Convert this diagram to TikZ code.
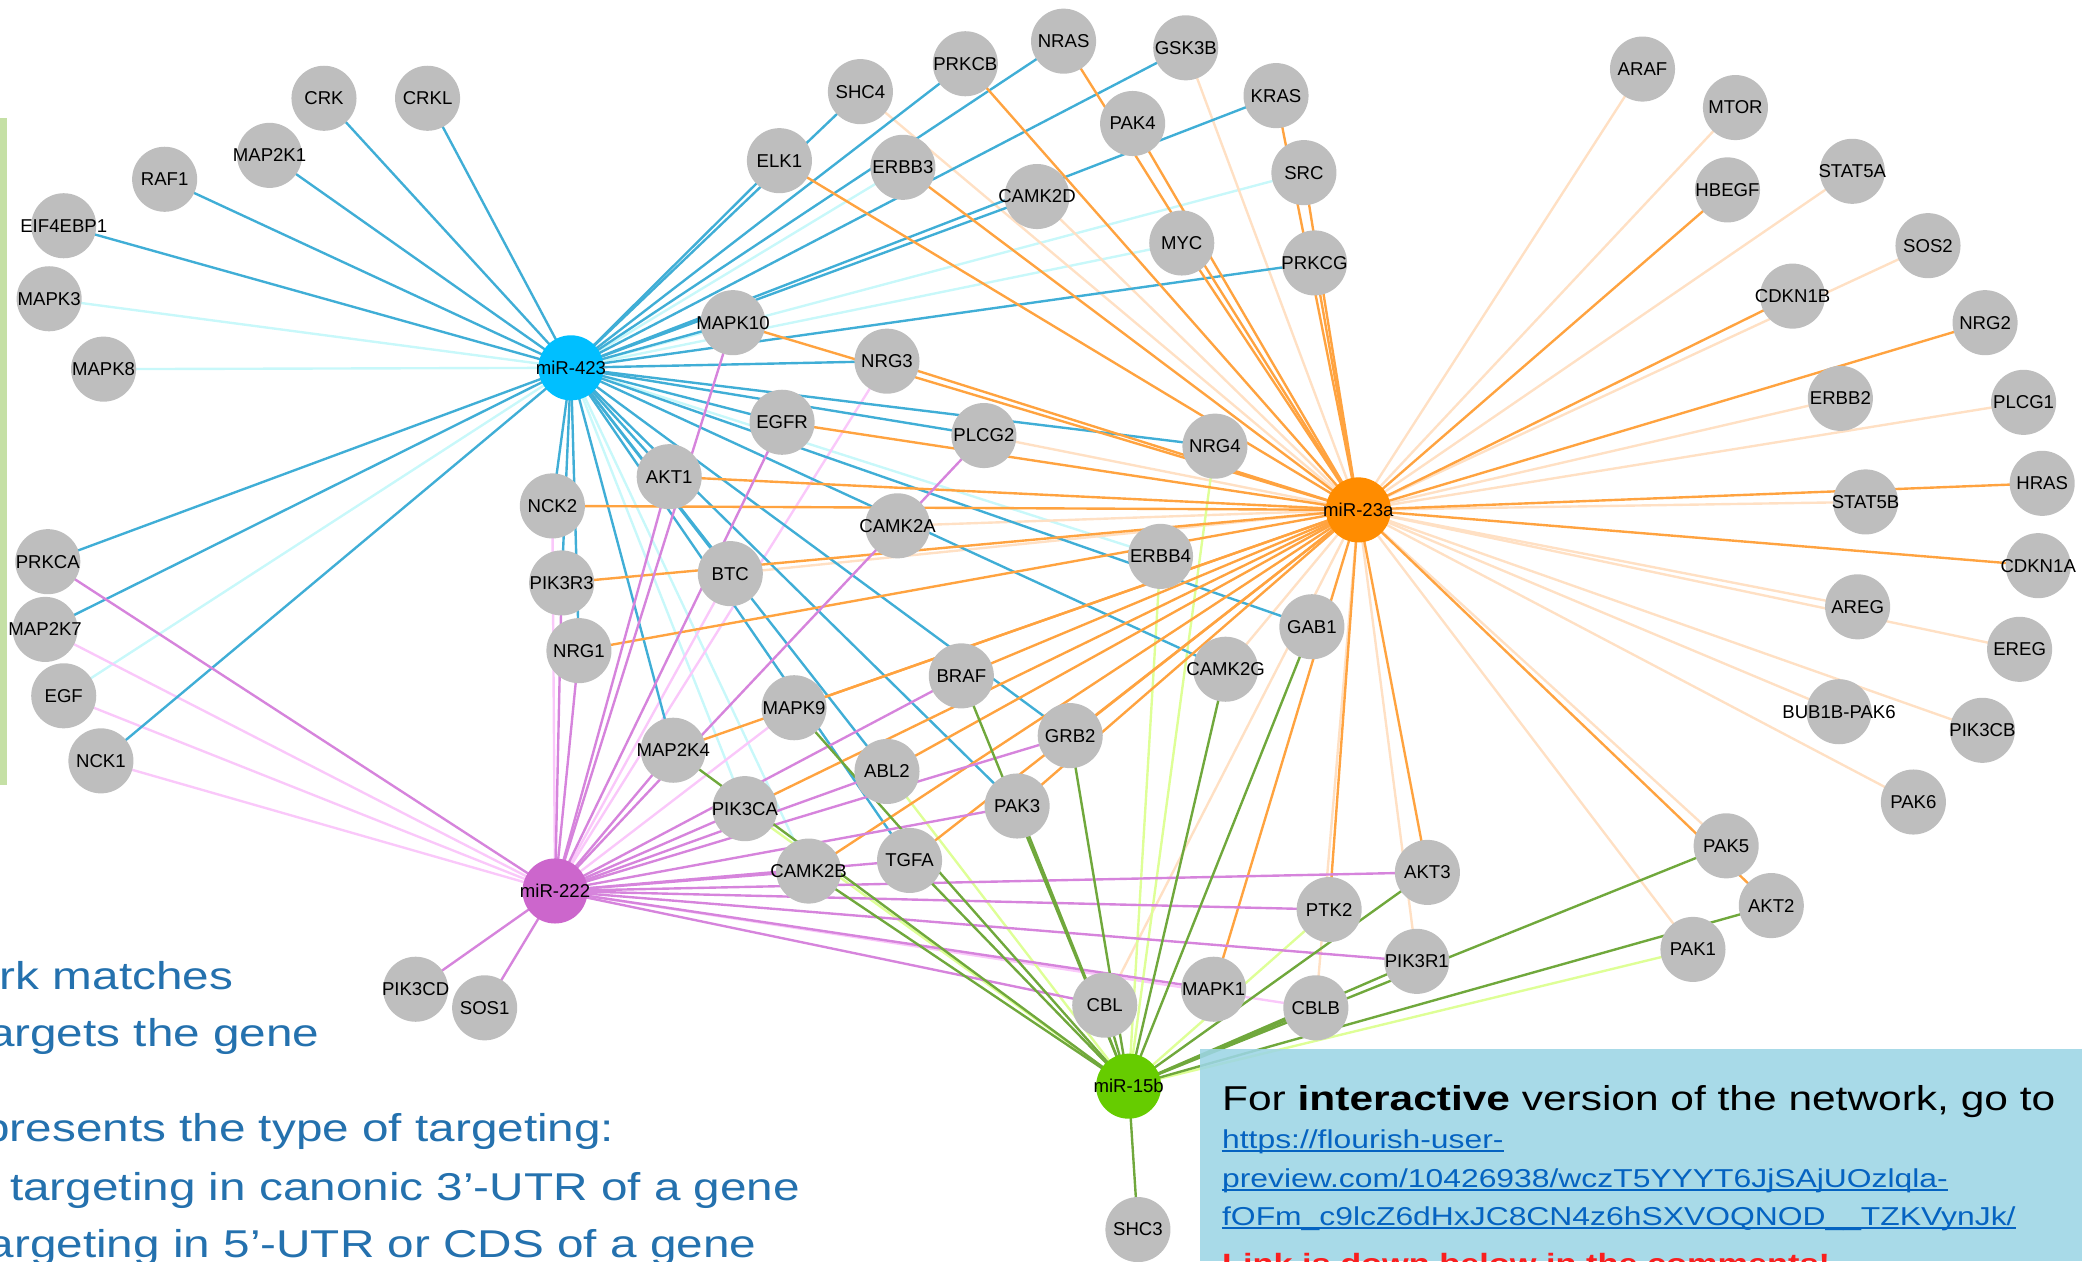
\documentclass[tikz,border=0pt]{standalone}
\usepackage{fontspec}
\setmainfont{Liberation Sans}
\newfontfamily\slidefont[FakeStretch=1.23]{Liberation Sans}
\usetikzlibrary{backgrounds}
\definecolor{nodegray}{RGB}{190,190,190}
\definecolor{c423}{RGB}{0,191,255}
\definecolor{c23}{RGB}{255,140,0}
\definecolor{c222}{RGB}{204,102,204}
\definecolor{c15}{RGB}{102,204,0}
\definecolor{db}{RGB}{64,174,214}
\definecolor{lbc}{RGB}{200,248,250}
\definecolor{do}{RGB}{255,163,64}
\definecolor{loc}{RGB}{255,224,196}
\definecolor{dm}{RGB}{214,132,220}
\definecolor{lmc}{RGB}{250,200,250}
\definecolor{dg}{RGB}{112,168,60}
\definecolor{lgc}{RGB}{222,255,150}
\definecolor{slideblue}{RGB}{36,113,174}
\definecolor{boxblue}{RGB}{156,213,229}
\definecolor{linkblue}{RGB}{5,99,193}
\definecolor{bargreen}{RGB}{197,224,165}
\definecolor{alertred}{RGB}{250,30,30}
\begin{document}
\begin{tikzpicture}[x=0.5pt,y=-0.5pt,
  gene/.style={circle,fill=nodegray,minimum size=24.5pt,inner sep=0pt,font=\fontsize{7}{8}\selectfont},
  hub/.style={gene},
  edge/.style={line width=0.9pt},
  db423/.style={edge,draw=db}, lb423/.style={edge,draw=lbc},
  do23/.style={edge,draw=do}, lo23/.style={edge,draw=loc},
  dm222/.style={edge,draw=dm}, lm222/.style={edge,draw=lmc},
  dg15/.style={edge,draw=dg}, lg15/.style={edge,draw=lgc},
  sidetext/.style={anchor=base east,inner sep=0pt,text=slideblue,font=\slidefont\fontsize{14.6}{16}\selectfont},
  linktext/.style={anchor=base west,inner sep=0pt,text=linkblue,font=\slidefont\fontsize{9.75}{11}\selectfont},
  underl/.style={draw=linkblue,line width=0.6pt}]
\useasboundingbox (0,0) rectangle (1568,950);

% green bar
\fill[bargreen] (0,89) rectangle (5,591);

% gene nodes
\foreach \n/\x/\y in {CRK/244/74,CRKL/322/74,MAP2K1/203/117,RAF1/124/135,EIF4EBP1/48/170,MAPK3/37/225,MAPK8/78/278,
  PRKCA/36/423,MAP2K7/34/474,EGF/48/524,NCK1/76/573,SHC4/648/69,PRKCB/727/48,NRAS/801/31,GSK3B/893/36,KRAS/961/72,
  PAK4/853/93,ELK1/587/121,ERBB3/680/126,CAMK2D/781/148,SRC/982/130,MYC/890/183,PRKCG/990/198,MAPK10/552/243,
  NRG3/668/272,EGFR/589/318,PLCG2/741/328,NRG4/915/336,AKT1/504/359,NCK2/416/381,CAMK2A/676/396,PIK3R3/423/439,
  BTC/550/432,ERBB4/874/419,NRG1/436/490,GAB1/988/472,BRAF/724/509,CAMK2G/923/504,MAPK9/598/533,GRB2/806/554,
  MAP2K4/507/565,ABL2/668/581,PIK3CA/561/609,PAK3/766/607,CAMK2B/609/656,TGFA/685/648,AKT3/1075/657,PTK2/1001/685,
  PIK3R1/1067/724,MAPK1/914/745,CBL/832/757,CBLB/991/759,SHC3/857/926,PIK3CD/313/745,SOS1/365/759,
  ARAF/1237/52,MTOR/1307/81,HBEGF/1301/143,STAT5A/1395/129,SOS2/1452/185,CDKN1B/1350/223,NRG2/1495/243,
  ERBB2/1386/300,PLCG1/1524/303,HRAS/1538/364,STAT5B/1405/378,CDKN1A/1535/426,AREG/1399/457,EREG/1521/489,
  PIK3CB/1493/550,PAK6/1441/604,PAK5/1300/637,AKT2/1334/682,PAK1/1275/715}
  \node[gene] (\n) at (\x,\y) {\makebox[0pt]{\n}};
\node[gene] (BUBPAK) at (1385,536) {\makebox[0pt]{BUB1B-PAK6}};

% hubs
\node[hub,fill=c423] (h423) at (430,277) {\makebox[0pt]{miR-423}};
\node[hub,fill=c23] (h23) at (1023,384) {\makebox[0pt]{miR-23a}};
\node[hub,fill=c222] (h222) at (418,671) {\makebox[0pt]{miR-222}};
\node[hub,fill=c15] (h15) at (850,818) {\makebox[0pt]{miR-15b}};

\begin{scope}[on background layer]
% light edges
\foreach \g in {MAPK3,MAPK8,EGF,ERBB3,SRC,MYC,ERBB4,CAMK2B,PIK3CA}
  \draw[lb423] (h423.center) -- (\g.center);
\foreach \g in {SHC4,GSK3B,CAMK2D,ARAF,MTOR,STAT5A,SOS2,ERBB2,PLCG1,STAT5B,AREG,EREG,BUBPAK,PIK3CB,PAK6,PAK5,PAK1,PIK3R1,CBLB,CBL,CAMK2G,BTC,PLCG2,CAMK2A}
  \draw[lo23] (h23.center) -- (\g.center);
\foreach \g in {MAP2K7,EGF,NCK1,NCK2,NRG3,BTC,MAPK9,CBLB}
  \draw[lm222] (h222.center) -- (\g.center);
\foreach \g in {PIK3CA,ABL2,NRG4,ERBB4,PTK2,PAK1}
  \draw[lg15] (h15.center) -- (\g.center);
% dark edges
\foreach \g in {CRK,CRKL,MAP2K1,RAF1,EIF4EBP1,PRKCA,MAP2K7,NCK1,ELK1,SHC4,PRKCB,NRAS,GSK3B,KRAS,CAMK2D,PRKCG,MAPK10,
  NRG3,EGFR,PLCG2,NRG4,CAMK2G,GAB1,AKT1,BTC,ABL2,TGFA,PAK3,GRB2,MAP2K4,NRG1,PIK3R3,NCK2}
  \draw[db423] (h423.center) -- (\g.center);
\foreach \g in {ELK1,PRKCB,NRAS,PAK4,KRAS,SRC,PRKCG,MYC,ERBB3,MAPK10,NRG3,HBEGF,CDKN1B,NRG2,HRAS,CDKN1A,AKT2,AKT3,
  PTK2,MAPK1,NCK2,AKT1,PIK3R3,NRG1,EGFR,MAPK9,MAP2K4,BRAF,GRB2,PAK3,ABL2,TGFA,CAMK2B,PIK3CA}
  \draw[do23] (h23.center) -- (\g.center);
\foreach \g in {PRKCA,PIK3CD,SOS1,NRG1,PIK3R3,AKT1,MAPK10,EGFR,PLCG2,MAP2K4,BRAF,GRB2,ABL2,PAK3,PIK3CA,CAMK2B,TGFA,
  AKT3,PTK2,PIK3R1,MAPK1,CBL}
  \draw[dm222] (h222.center) -- (\g.center);
\foreach \g in {SHC3,CBL,GRB2,PAK3,BRAF,TGFA,CAMK2B,MAP2K4,MAPK9,CAMK2G,GAB1,AKT3,CBLB,PIK3R1,PAK5,AKT2}
  \draw[dg15] (h15.center) -- (\g.center);
\end{scope}

% info box
\fill[boxblue,fill opacity=0.88] (904,790) rectangle (1568,950);
\node[anchor=base west,inner sep=0pt,font=\slidefont\fontsize{13}{15}\selectfont] (T1) at (920,836)
  {For \textbf{interactive} version of the network, go to};
\node[linktext] (L1) at (920,865) {https://flourish-user-};
\node[linktext] (L2) at (920,894) {preview.com/10426938/wczT5YYYT6JjSAjUOzlqla-};
\node[linktext] (L3) at (920,923) {fOFm\_c9lcZ6dHxJC8CN4z6hSXVOQNOD\_\_TZKVynJk/};
\foreach \l in {L1,L2,L3}
  \draw[underl] ([yshift=-1pt]\l.base west) -- ([yshift=-1pt]\l.base east);
\node[anchor=base west,inner sep=0pt,text=alertred,font=\slidefont\bfseries\fontsize{10.5}{12}\selectfont] (T2) at (920,959)
  {Link is down below in the comments!};

% left text
\node[sidetext] (S1) at (176,745) {rk matches};
\node[sidetext] (S2) at (241,788) {argets the gene};
\node[sidetext] (S3) at (463,860) {presents the type of targeting:};
\node[sidetext] (S4) at (603,904) {targeting in canonic 3’-UTR of a gene};
\node[sidetext] (S5) at (570,947) {argeting in 5’-UTR or CDS of a gene};
\end{tikzpicture}
\end{document}
